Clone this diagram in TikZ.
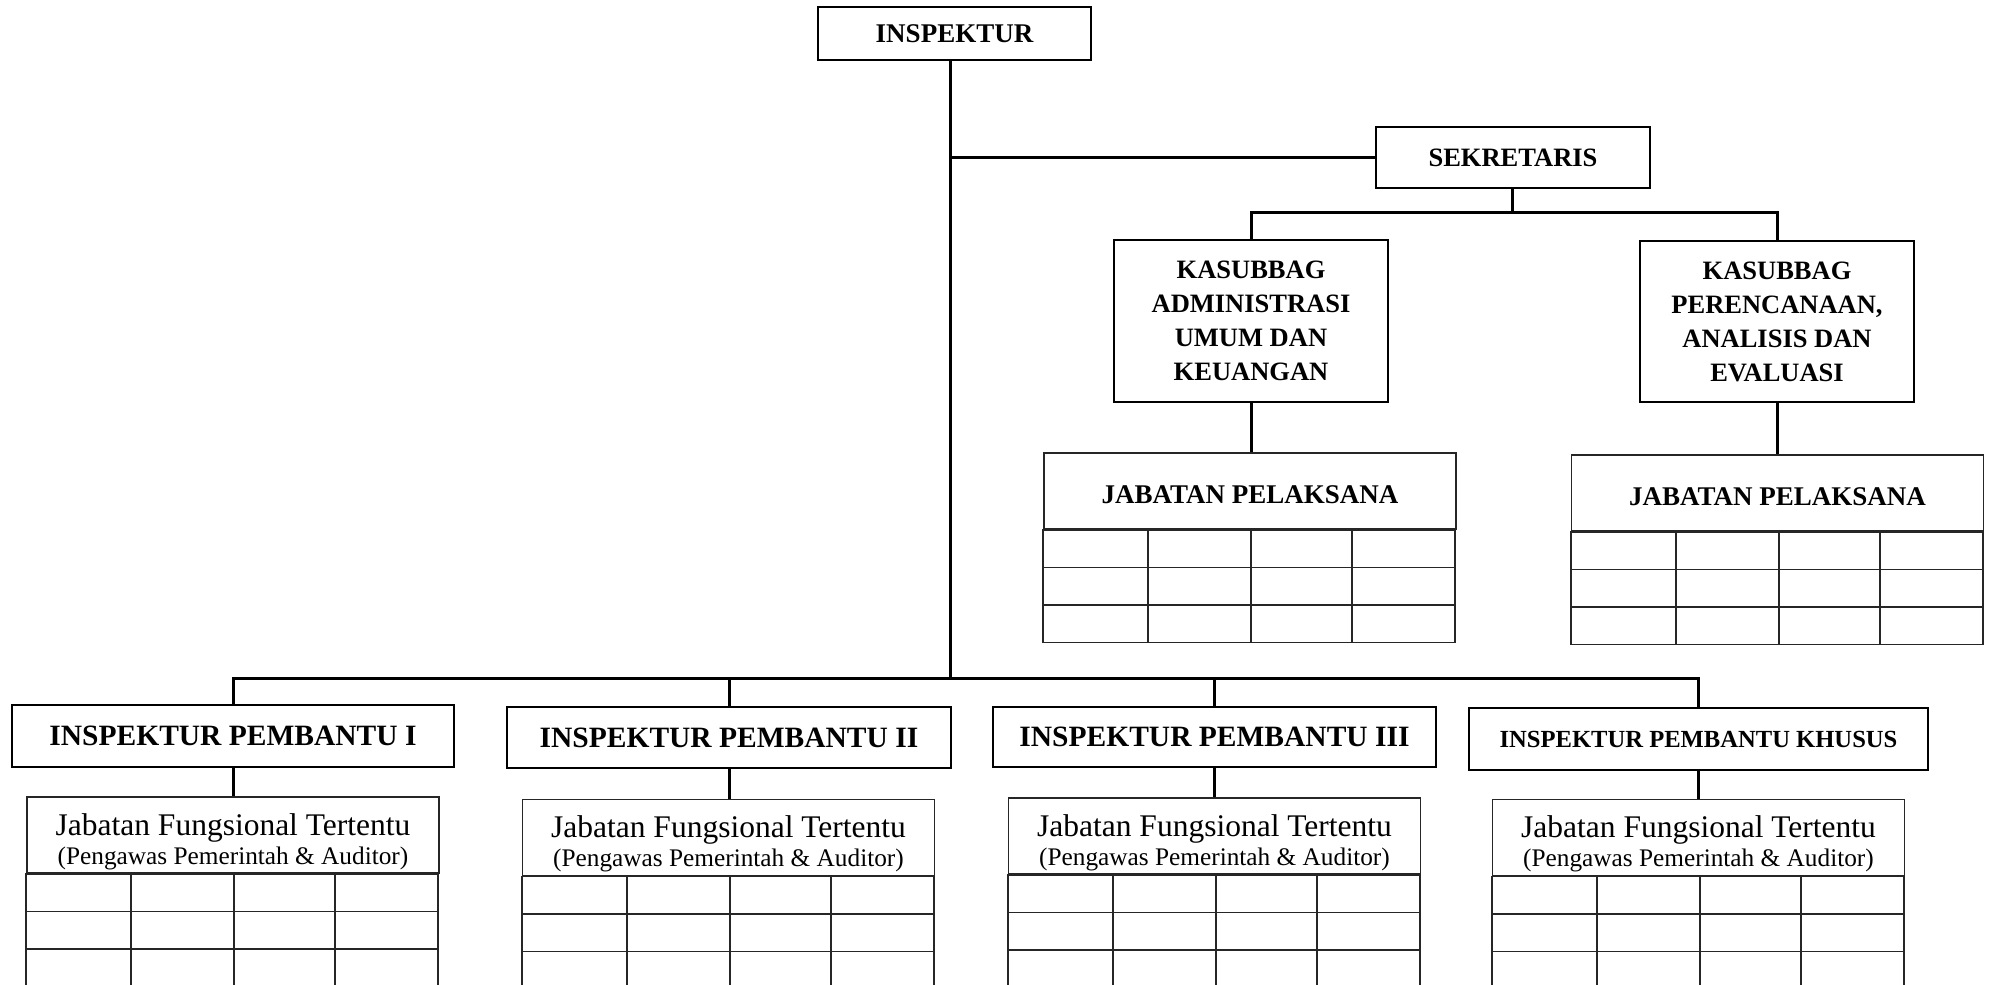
\documentclass[tikz,border=0pt]{standalone}
\usepackage{fontspec}
\setmainfont{Liberation Serif}
\begin{document}
\begin{tikzpicture}[x=1pt,y=-1pt,
  box/.style={draw, line width=2.4pt, inner sep=0pt, align=center, font=\bfseries\fontsize{27}{34}\selectfont},
  conn/.style={line width=3pt},
  tline/.style={line width=1.6pt, draw=black!85},
  hdr/.style={draw=black!85, line width=1.6pt, minimum width=412pt, minimum height=76pt, inner sep=0pt, align=center},
  ipbox/.style={box, font=\bfseries\fontsize{29.5}{34}\selectfont},
  jft/.style={hdr, font=\fontsize{31.5}{30}\selectfont}
]
\useasboundingbox (0,0) rectangle (1989,985);
\clip (0,0) rectangle (1989,985);
\fill[white] (0,0) rectangle (1989,985);

\newcommand{\tblrows}[1]{%
  \begin{scope}[shift={(#1.south west)}]
    \draw[tline] (0,0) rectangle (412,112.5);
    \foreach \yy in {37.5,75} \draw[tline] (0,\yy) -- (412,\yy);
    \foreach \xx in {105,208,309} \draw[tline] (\xx,0) -- (\xx,112.5);
  \end{scope}}
\newcommand{\jfttext}{\rule{0pt}{35pt}Jabatan Fungsional Tertentu\\[-1pt]{\fontsize{25.3}{28}\selectfont(Pengawas Pemerintah \& Auditor)}}

% top level
\node[box, minimum width=273pt, minimum height=53pt] (insp) at (954.5,33.5) {INSPEKTUR};
\node[box, minimum width=274pt, minimum height=61pt, font=\bfseries\fontsize{26.5}{34}\selectfont] (sek) at (1513,157.5) {SEKRETARIS};
\node[box, minimum width=274pt, minimum height=162pt, font=\bfseries\fontsize{26.5}{34}\selectfont] (kas1) at (1251,321) {KASUBBAG\\ADMINISTRASI\\UMUM DAN\\KEUANGAN};
\node[box, minimum width=274pt, minimum height=161pt, font=\bfseries\fontsize{26.5}{34}\selectfont] (kas2) at (1777,321.5) {KASUBBAG\\PERENCANAAN,\\ANALISIS DAN\\EVALUASI};

\node[hdr, font=\bfseries\fontsize{27}{30}\selectfont] (jp1) at (1250,491) {\rule{0pt}{26pt}JABATAN PELAKSANA};
\node[hdr, font=\bfseries\fontsize{27}{30}\selectfont] (jp2) at (1777.5,493) {\rule{0pt}{26pt}JABATAN PELAKSANA};
\tblrows{jp1}
\tblrows{jp2}

% inspektur pembantu
\node[ipbox, minimum width=442pt, minimum height=62pt] (ip1) at (233,736) {INSPEKTUR PEMBANTU I};
\node[ipbox, minimum width=444pt, minimum height=61pt] (ip2) at (729,737.5) {INSPEKTUR PEMBANTU II};
\node[ipbox, minimum width=443pt, minimum height=60pt] (ip3) at (1214.5,737) {INSPEKTUR PEMBANTU III};
\node[box, minimum width=459pt, minimum height=62pt, font=\bfseries\fontsize{24.6}{30}\selectfont] (ipk) at (1698.5,739) {INSPEKTUR PEMBANTU KHUSUS};

\node[jft] (jft1) at (233,835) {\jfttext};
\node[jft] (jft2) at (728.5,837.5) {\jfttext};
\node[jft] (jft3) at (1214.5,836) {\jfttext};
\node[jft] (jft4) at (1698.5,837.5) {\jfttext};
\tblrows{jft1}
\tblrows{jft2}
\tblrows{jft3}
\tblrows{jft4}

% connectors
\coordinate (bar) at (950,678);
\coordinate (sbar) at (1512,212);
\coordinate (t1) at (950,157.5);
\draw[conn] ([xshift=-4.5pt]insp.south) -- (bar);
\draw[conn] (t1) -- (sek.west);
\draw[conn] (sek.south -| sbar) -- (sbar);
\draw[conn] (kas1.north) |- (sbar) -| (kas2.north);
\draw[conn] (kas1.south) -- (kas1.south |- jp1.north);
\draw[conn] (kas2.south) -- (kas2.south |- jp2.north);
\draw[conn] (ip1.north) |- (bar) -| (ipk.north);
\draw[conn] (ip2.north) -- (ip2.north |- bar);
\draw[conn] (ip3.north) -- (ip3.north |- bar);
\draw[conn] (ip1.south) -- (ip1.south |- jft1.north);
\draw[conn] (ip2.south) -- (ip2.south |- jft2.north);
\draw[conn] (ip3.south) -- (ip3.south |- jft3.north);
\draw[conn] (ipk.south) -- (ipk.south |- jft4.north);
\end{tikzpicture}
\end{document}
